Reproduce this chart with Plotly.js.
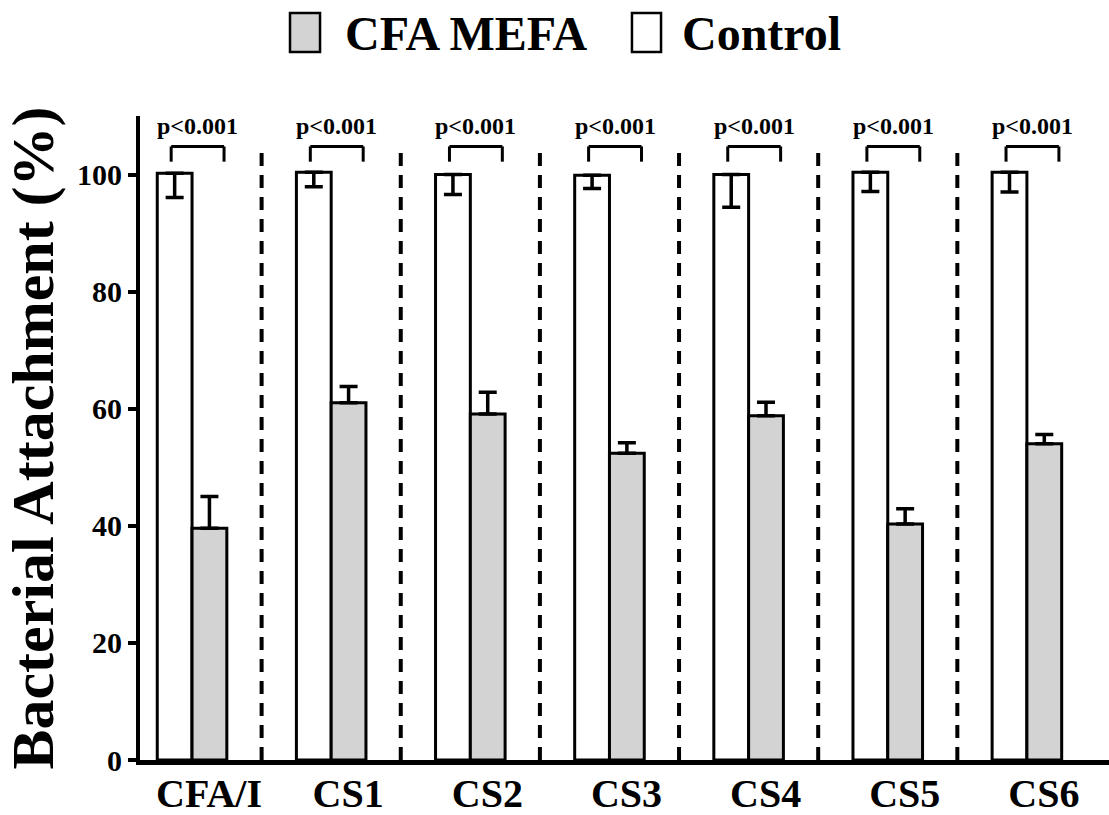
<!DOCTYPE html>
<html>
<head>
<meta charset="utf-8">
<script src="https://cdn.plot.ly/plotly-3.0.1.min.js"></script>
<style>html,body{margin:0;padding:0;background:#fff;}#chart{width:1109px;height:815px;}</style>
</head>
<body>
<div id="chart"></div>
<script>
// ---- data ----
const categories = ['CFA/I', 'CS1', 'CS2', 'CS3', 'CS4', 'CS5', 'CS6'];
const controlValues = [100.2, 100.4, 100.0, 99.9, 100.0, 100.4, 100.4];
const controlErrMinus = [4.1, 2.5, 3.4, 2.3, 5.6, 3.3, 3.4];
const mefaValues = [39.6, 61.0, 59.1, 52.4, 58.8, 40.3, 54.0];
const mefaErrPlus = [5.4, 2.8, 3.7, 1.8, 2.3, 2.6, 1.6];
const pLabels = ['p<0.001', 'p<0.001', 'p<0.001', 'p<0.001', 'p<0.001', 'p<0.001', 'p<0.001'];
const seriesNames = ['CFA MEFA', 'Control'];
const yTicks = [0, 20, 40, 60, 80, 100];

const FONT = 'Liberation Serif, Times New Roman, serif';

const traceControl = {
  type: 'bar', name: seriesNames[1], x: categories, y: controlValues,
  marker: {color: '#ffffff', line: {color: '#000', width: 3}},
  error_y: {type: 'data', symmetric: false, array: controlValues.map(() => 0),
            arrayminus: controlErrMinus, color: '#000', thickness: 3.5, width: 9},
  showlegend: false
};
const traceMefa = {
  type: 'bar', name: seriesNames[0], x: categories, y: mefaValues,
  marker: {color: '#d3d3d3', line: {color: '#000', width: 3}},
  error_y: {type: 'data', symmetric: false, array: mefaErrPlus,
            arrayminus: mefaValues.map(() => 0), color: '#000', thickness: 3.5, width: 9},
  showlegend: false
};

const shapes = [];
const annotations = [];
// dashed separators between groups
for (let i = 0; i < categories.length - 1; i++) {
  shapes.push({type: 'line', xref: 'x', yref: 'y', x0: i + 0.5, x1: i + 0.5, y0: 0, y1: 104.6,
               line: {color: '#000', width: 4, dash: '13px,9px'}});
}
// significance brackets + labels
const bOff = 0.04, bHalf = 0.19, bTop = 104.8, bLow = 102.2;
categories.forEach((c, i) => {
  const xc = i + bOff;
  const ln = {color: '#000', width: 3};
  shapes.push({type: 'line', xref: 'x', yref: 'y', x0: xc - bHalf, x1: xc + bHalf, y0: bTop, y1: bTop, line: ln});
  shapes.push({type: 'line', xref: 'x', yref: 'y', x0: xc - bHalf, x1: xc - bHalf, y0: bLow, y1: bTop, line: ln});
  shapes.push({type: 'line', xref: 'x', yref: 'y', x0: xc + bHalf, x1: xc + bHalf, y0: bLow, y1: bTop, line: ln});
  annotations.push({xref: 'x', yref: 'y', x: xc, y: 108.3, text: pLabels[i].replace('<', '&lt;'),
                    showarrow: false, font: {family: FONT, size: 24, color: '#000', weight: 'bold'},
                    xanchor: 'center', yanchor: 'middle'});
});
// custom legend (large swatches like the original)
const legendItems = [
  {name: seriesNames[0], fill: '#d3d3d3', x0: 0.1548, x1: 0.1858, tx: 0.2095},
  {name: seriesNames[1], fill: '#ffffff', x0: 0.5077, x1: 0.5377, tx: 0.5573}
];
legendItems.forEach(it => {
  shapes.push({type: 'rect', xref: 'paper', yref: 'paper', x0: it.x0, x1: it.x1, y0: 1.0994, y1: 1.160,
               fillcolor: it.fill, line: {color: '#000', width: 2.5}});
  annotations.push({xref: 'paper', yref: 'paper', x: it.tx, y: 1.128, text: it.name, showarrow: false,
                    xanchor: 'left', yanchor: 'middle',
                    font: {family: FONT, size: 48, color: '#000', weight: 'bold'}});
});

const layout = {
  width: 1109, height: 815,
  margin: {l: 140, r: 0, t: 116, b: 55},
  paper_bgcolor: '#fff', plot_bgcolor: '#fff',
  barmode: 'group', bargap: 0.5, bargroupgap: 0,
  showlegend: false,
  font: {family: FONT, color: '#000'},
  xaxis: {
    type: 'category', range: [-0.374, 6.59], showline: true, linewidth: 5, linecolor: '#000',
    ticks: '', showgrid: false, zeroline: false, fixedrange: true,
    ticklabelshift: 17, ticklabelstandoff: -6,
    tickfont: {family: FONT, size: 40, color: '#000', weight: 'bold'}
  },
  yaxis: {
    range: [0, 110], tickvals: yTicks, ticktext: yTicks.map(String),
    showline: true, linewidth: 4, linecolor: '#000', ticks: 'outside', ticklen: 8, tickwidth: 4,
    tickcolor: '#000', showgrid: false, zeroline: false, fixedrange: true,
    tickfont: {family: FONT, size: 30, color: '#000', weight: 'bold'},
    title: {text: 'Bacterial Attachment (%)', standoff: 10,
            font: {family: FONT, size: 60, color: '#000', weight: 'bold'}}
  },
  shapes: shapes,
  annotations: annotations
};

Plotly.newPlot('chart', [traceControl, traceMefa], layout, {staticPlot: true, displayModeBar: false});
</script>
</body>
</html>
